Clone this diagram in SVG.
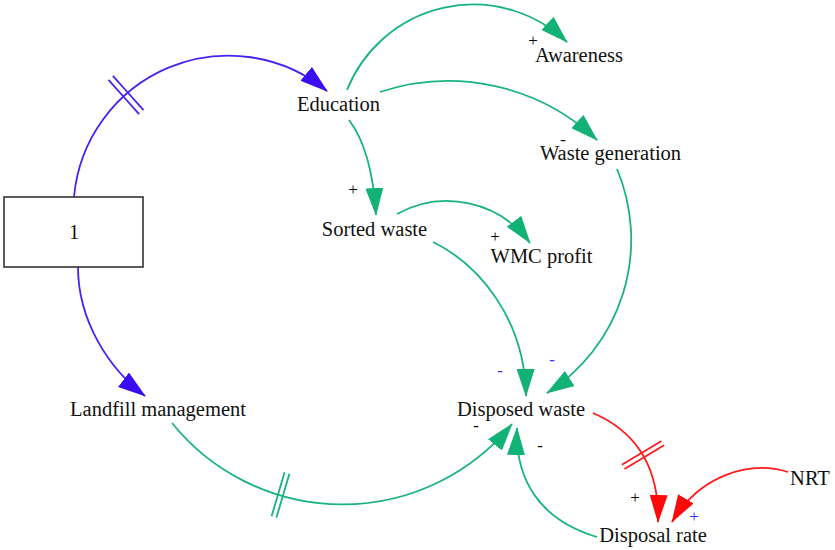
<svg xmlns="http://www.w3.org/2000/svg" width="835" height="550" viewBox="0 0 835 550">
<style>
.lbl{font-family:"Liberation Serif","Times New Roman",serif;font-size:20.5px;fill:#111;text-anchor:middle}
.sg{font-family:"Liberation Serif","Times New Roman",serif;font-size:17px;fill:#000;text-anchor:middle}
.sb{fill:#3030ff}
.cb{fill:none;stroke:#4a22f0;stroke-width:1.8}
.cg{fill:none;stroke:#18b47c;stroke-width:1.8}
.cr{fill:none;stroke:#ff1a1a;stroke-width:1.8}
</style>
<defs>
<marker id="ab" viewBox="0 0 28 18" refX="27" refY="9" markerWidth="28" markerHeight="18" markerUnits="userSpaceOnUse" orient="auto"><path d="M0,0 L28,9 L0,18 z" fill="#3a0cf0"/></marker>
<marker id="ag" viewBox="0 0 28 18" refX="27" refY="9" markerWidth="28" markerHeight="18" markerUnits="userSpaceOnUse" orient="auto"><path d="M0,0 L28,9 L0,18 z" fill="#12b277"/></marker>
<marker id="ar" viewBox="0 0 28 18" refX="27" refY="9" markerWidth="28" markerHeight="18" markerUnits="userSpaceOnUse" orient="auto"><path d="M0,0 L28,9 L0,18 z" fill="#ff0a0a"/></marker>
</defs>
<rect width="835" height="550" fill="#fff"/>
<g id="connectors">
<path class="cb" d="M74,197 A155,155 0 0 1 327,91" marker-end="url(#ab)"/>
<path class="cb" d="M128.2,93 l-15.3,-17.2 M128.2,93 l15.3,17.2 M123.8,97 l-15.3,-17.2 M123.8,97 l15.3,17.2"/>
<path class="cb" d="M78,267 C78,320 108,368 145,396" marker-end="url(#ab)"/>
<path class="cg" d="M347,90 A136,136 0 0 1 567,42" marker-end="url(#ag)"/>
<path class="cg" d="M380,92 A217,217 0 0 1 597,140" marker-end="url(#ag)"/>
<path class="cg" d="M349,120 Q372,150 376,215" marker-end="url(#ag)"/>
<path class="cg" d="M397,214 A103,103 0 0 1 530,243" marker-end="url(#ag)"/>
<path class="cg" d="M433,242 C480,265 525,320 526,396" marker-end="url(#ag)"/>
<path class="cg" d="M617,169 A182,182 0 0 1 547,393" marker-end="url(#ag)"/>
<path class="cg" d="M172,423 A219,219 0 0 0 512,424" marker-end="url(#ag)"/>
<path class="cg" d="M276.4,517.7 L289.4,473.7 M271.6,516.3 L284.6,472.3"/>
<path class="cg" d="M597,537 C540,520 515,480 517,428" marker-end="url(#ag)"/>
<path class="cr" d="M593,413 Q660,442 658,522" marker-end="url(#ar)"/>
<path class="cr" d="M624.5,468.9 L664.1,445.3 M621.9,464.7 L661.5,441.1"/>
<path class="cr" d="M788,472 C750,460 700,475 672,522" marker-end="url(#ar)"/>
</g>
<g id="signs">
<text class="sg" x="353" y="195">+</text>
<text class="sg" x="533" y="46">+</text>
<text class="sg" x="563" y="145">-</text>
<text class="sg" x="495" y="242">+</text>
<text class="sg sb" x="500" y="376">-</text>
<text class="sg sb" x="552" y="365">-</text>
<text class="sg" x="476" y="431">-</text>
<text class="sg" x="540" y="451">-</text>
<text class="sg" x="635" y="503">+</text>
<text class="sg sb" x="694" y="522">+</text>
</g>
<g id="n1"><rect x="4" y="197" width="139" height="70" fill="#fff" stroke="#333" stroke-width="1.6"/><text class="lbl" x="74" y="239">1</text></g>
<g id="education"><text class="lbl" x="338.5" y="111">Education</text></g>
<g id="awareness"><text class="lbl" x="579" y="62">Awareness</text></g>
<g id="waste-generation"><text class="lbl" x="610.5" y="160">Waste generation</text></g>
<g id="sorted-waste"><text class="lbl" x="374.5" y="236">Sorted waste</text></g>
<g id="wmc-profit"><text class="lbl" x="541.5" y="263">WMC profit</text></g>
<g id="landfill-management"><text class="lbl" x="158" y="416">Landfill management</text></g>
<g id="disposed-waste"><text class="lbl" x="521" y="416">Disposed waste</text></g>
<g id="disposal-rate"><text class="lbl" x="653" y="542">Disposal rate</text></g>
<g id="nrt"><text class="lbl" x="810" y="485">NRT</text></g>
</svg>
